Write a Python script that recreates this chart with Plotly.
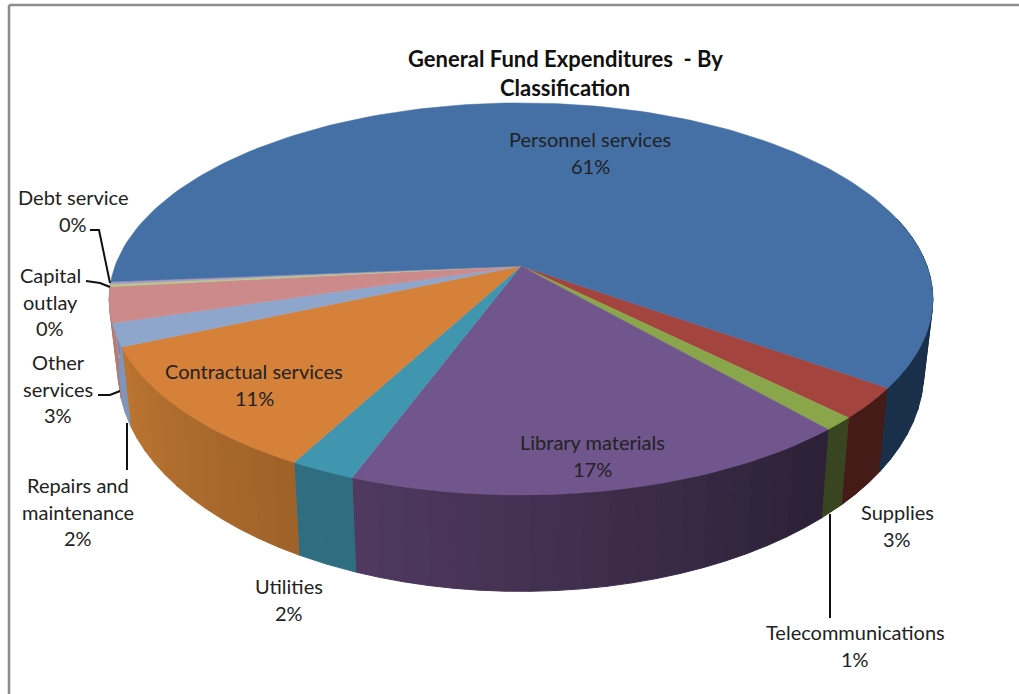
import math
import plotly.graph_objects as go

# ---- data (share of expenditure, clockwise from Supplies) ----
categories = ["Supplies", "Telecommunications", "Library materials", "Utilities",
              "Contractual services", "Repairs and maintenance", "Other services",
              "Capital outlay", "Debt service", "Personnel services"]
values = [2.6, 1.1, 17.2, 2.2, 10.6, 1.9, 2.9, 0.2, 0.2, 61.1]
top_colors = ["#A4443F", "#8AA64B", "#70568D", "#3F96AE", "#D5813A",
              "#8EA5CC", "#CC8A8A", "#B5C98A", "#A899C0", "#4570A6"]
wall_near = ["#451B18", "#394520", "#2B2035", "#2F6D80", "#9E622A",
             "#7F95BC", "#B57A7A", "#9DB078", "#9080A8", "#1A2F4A"]
wall_far = ["#451B18", "#394520", "#503A60", "#2F6D80", "#BC7430",
            "#7F95BC", "#B57A7A", "#9DB078", "#9080A8", "#1A2F4A"]
title_lines = ["General Fund Expenditures  - By", "Classification"]
labels = [
    (["Personnel services", "61%"], 590, 139),
    (["Debt service", "0%"], 73, 197),
    (["Capital", "outlay", "0%"], 50, 275),
    (["Other", "services", "3%"], 58, 362),
    (["Repairs and", "maintenance", "2%"], 78, 485),
    (["Contractual services", "11%"], 254, 371),
    (["Library materials", "17%"], 592, 442),
    (["Utilities", "2%"], 289, 586),
    (["Supplies", "3%"], 897, 512),
    (["Telecommunications", "1%"], 855, 632),
]
leaders = [
    ([90, 99, 110], [230, 230, 283]),
    ([86, 100, 110], [281, 283, 287]),
    ([98, 110, 120], [395, 395, 391]),
    ([127, 127], [423, 470]),
    ([830, 830], [514, 618]),
]

# ---- projection of the pie disc ----
START = 35.3
CX, CY = 521, 266
R, S, K = 406, 190.5, 0.168
WALL_X, WALL_A, WALL_B = 0.978, 37, 1.12
FONT = "Lato"


def top_pt(deg):
    a = math.radians(deg)
    u, v = math.cos(a), math.sin(a)
    d = 1 - K * v
    return CX + R * u / d, CY + S * v / d


def bottom_pt(deg):
    x, y = top_pt(deg)
    return CX + (x - CX) * WALL_X, WALL_A + WALL_B * y


def mix(c1, c2, t):
    p = [int(c1[i:i + 2], 16) for i in (1, 3, 5)]
    q = [int(c2[i:i + 2], 16) for i in (1, 3, 5)]
    return "#%02X%02X%02X" % tuple(round(a + (b - a) * t) for a, b in zip(p, q))


total = sum(values)
spans = []
ang = START
for val in values:
    end = ang + val / total * 360
    spans.append((ang, end))
    ang = end

fig = go.Figure()

# side walls (only the part facing the viewer)
for i, (a0, a1) in enumerate(spans):
    parts = [(a0, a1)]
    if i == len(spans) - 1:
        parts = [(345, 360), (0, START)]
    for (p0, p1) in parts:
        n = max(1, int((p1 - p0) / 3))
        for j in range(n):
            s0 = p0 + (p1 - p0) * j / n
            s1 = p0 + (p1 - p0) * (j + 1) / n
            t = ((s0 + s1) / 2 - p0) / (p1 - p0)
            col = mix(wall_near[i], wall_far[i], t)
            tp0, tp1, bp1, bp0 = top_pt(s0), top_pt(s1), bottom_pt(s1), bottom_pt(s0)
            fig.add_trace(go.Scatter(
                x=[tp0[0], tp1[0], bp1[0], bp0[0], tp0[0]],
                y=[tp0[1], tp1[1], bp1[1], bp0[1], tp0[1]],
                mode="lines", fill="toself", fillcolor=col,
                line=dict(color=col, width=1), hoverinfo="skip", showlegend=False))

# top faces
for i, (a0, a1) in enumerate(spans):
    n = max(2, int((a1 - a0) / 1.5))
    pts = [top_pt(a0 + (a1 - a0) * j / n) for j in range(n + 1)]
    xs = [CX] + [p[0] for p in pts] + [CX]
    ys = [CY] + [p[1] for p in pts] + [CY]
    fig.add_trace(go.Scatter(
        x=xs, y=ys, mode="lines", fill="toself", fillcolor=top_colors[i],
        line=dict(color=top_colors[i], width=0.5), name=categories[i],
        text=f"{categories[i]}: {values[i]}%", hoverinfo="text", showlegend=False))

# leader lines
for lx, ly in leaders:
    fig.add_trace(go.Scatter(x=lx, y=ly, mode="lines", line=dict(color="#111111", width=2),
                             hoverinfo="skip", showlegend=False))

annotations = []
for k, line in enumerate(title_lines):
    annotations.append(dict(x=565, y=58 + 29 * k, text=f"<b>{line}</b>", showarrow=False,
                            font=dict(family=FONT, size=22, color="#111111"),
                            xanchor="center", yanchor="middle"))
for lines, cx, y0 in labels:
    for k, line in enumerate(lines):
        annotations.append(dict(x=cx, y=y0 + 26.5 * k, text=line, showarrow=False,
                                font=dict(family=FONT, size=20, color="#222222"),
                                xanchor="center", yanchor="middle"))

fig.update_layout(
    width=1019, height=694, margin=dict(l=0, r=0, t=0, b=0),
    paper_bgcolor="white", plot_bgcolor="white", showlegend=False,
    xaxis=dict(range=[0, 1019], visible=False, fixedrange=True),
    yaxis=dict(range=[694, 0], visible=False, fixedrange=True),
    annotations=annotations,
    shapes=[
        dict(type="line", x0=9, x1=9, y0=5, y1=694, line=dict(color="#8C8C8C", width=2.5)),
        dict(type="line", x0=9, x1=1019, y0=5, y1=5, line=dict(color="#8C8C8C", width=2.5)),
    ],
)

fig.write_html("out.html", config={"displayModeBar": False},
               post_script="document.body.style.margin='0';document.documentElement.style.overflow='hidden';")
